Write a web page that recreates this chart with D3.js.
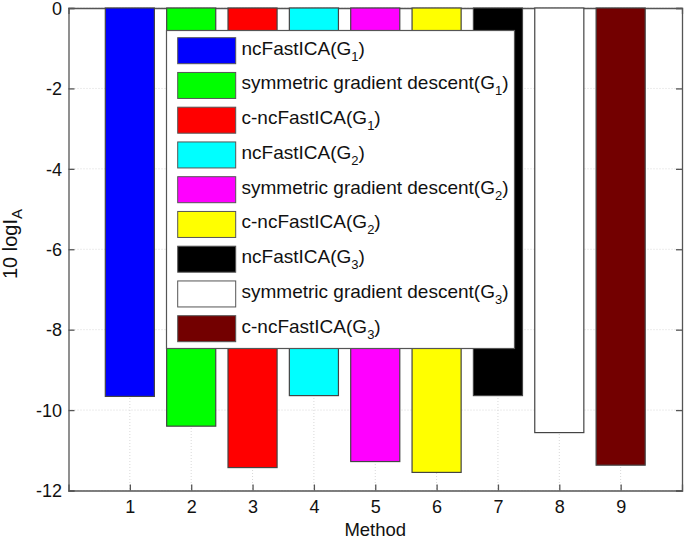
<!DOCTYPE html>
<html>
<head>
<meta charset="utf-8">
<script src="https://cdn.jsdelivr.net/npm/d3@7"></script>
<style>
  html, body { margin: 0; padding: 0; background: #fff; }
  svg { display: block; font-family: "Liberation Sans", Arial, Helvetica, sans-serif; }
</style>
</head>
<body>
<svg id="chart" width="685" height="539"></svg>
<script>
// ---- data ----
const methods = [1, 2, 3, 4, 5, 6, 7, 8, 9];
const values = [-9.66, -10.40, -11.43, -9.64, -11.28, -11.55, -9.64, -10.56, -11.37];
const colors = ["#0000ff", "#00ff00", "#ff0000", "#00ffff", "#ff00ff", "#ffff00", "#000000", "#ffffff", "#730000"];
const legendNames = ["ncFastICA", "symmetric gradient descent", "c-ncFastICA",
                     "ncFastICA", "symmetric gradient descent", "c-ncFastICA",
                     "ncFastICA", "symmetric gradient descent", "c-ncFastICA"];
const legendSubs = ["1", "1", "1", "2", "2", "2", "3", "3", "3"];
const yTicks = [0, -2, -4, -6, -8, -10, -12];
const xTicks = [1, 2, 3, 4, 5, 6, 7, 8, 9];

// ---- layout ----
const svg = d3.select("#chart");
const L = 68.5, R = 682, T = 8, B = 490.5;
const x = d3.scaleLinear().domain([0, 10]).range([L, R]);
const y = d3.scaleLinear().domain([-12, 0]).range([B, T]);
const barW = 0.8;
const axisColor = "#555";
const tickFont = 18;
const legendFont = 19;

// grid
const grid = svg.append("g");
grid.selectAll("line.gy").data(yTicks).join("line")
  .attr("x1", L).attr("x2", R).attr("y1", d => y(d)).attr("y2", d => y(d))
  .attr("stroke", "#d8d8d8").attr("stroke-dasharray", "1,2").attr("stroke-width", 1);
grid.selectAll("line.gx").data(xTicks).join("line")
  .attr("y1", T).attr("y2", B).attr("x1", d => x(d)).attr("x2", d => x(d))
  .attr("stroke", "#d8d8d8").attr("stroke-dasharray", "1,2").attr("stroke-width", 1);

// axes (ticks inward)
const axB = svg.append("g").attr("transform", `translate(0,${B})`)
  .call(d3.axisBottom(x).tickValues(xTicks).tickSize(-6).tickPadding(10).tickFormat(d3.format("d")));
const axT = svg.append("g").attr("transform", `translate(0,${T})`)
  .call(d3.axisTop(x).tickValues(xTicks).tickSize(-6).tickFormat(""));
const axLft = svg.append("g").attr("transform", `translate(${L},0)`)
  .call(d3.axisLeft(y).tickValues(yTicks).tickSize(-6).tickPadding(6.5).tickFormat(d3.format("d")));
const axRt = svg.append("g").attr("transform", `translate(${R},0)`)
  .call(d3.axisRight(y).tickValues(yTicks).tickSize(-6).tickFormat(""));
[axB, axT, axLft, axRt].forEach(g => {
  g.select(".domain").attr("stroke", axisColor).attr("stroke-width", 1.3);
  g.selectAll(".tick line").attr("stroke", axisColor).attr("stroke-width", 1.3);
  g.selectAll(".tick text").attr("fill", "#111").attr("font-size", tickFont)
    .attr("font-family", "Liberation Sans, Arial, sans-serif");
});
axLft.selectAll(".tick text").text(d => d === 0 ? "0" : "-" + Math.abs(d)).attr("dy", "0.35em");
axB.selectAll(".tick text").attr("dy", "0.71em");

// bars
svg.append("g").selectAll("rect").data(methods).join("rect")
  .attr("x", (d) => x(d - barW / 2))
  .attr("width", x(barW) - x(0))
  .attr("y", y(0))
  .attr("height", (d, i) => y(values[i]) - y(0))
  .attr("fill", (d, i) => colors[i])
  .attr("stroke", "#444").attr("stroke-width", 1.2);

// axis labels
svg.append("text").attr("x", x(5)).attr("y", 536).attr("text-anchor", "middle")
  .attr("font-size", 18.5).attr("fill", "#111").text("Method");
const yl = svg.append("text").attr("transform", `translate(17,244) rotate(-90)`)
  .attr("text-anchor", "middle").attr("font-size", 20).attr("fill", "#111");
yl.append("tspan").text("10 logI");
yl.append("tspan").attr("dy", 5).attr("font-size", 15).text("A");

// legend
const lg = svg.append("g");
const lgX = 166.5, lgY = 30.5, lgW = 348, lgH = 318;
lg.append("rect").attr("x", lgX).attr("y", lgY).attr("width", lgW).attr("height", lgH)
  .attr("fill", "#fff").attr("stroke", "#555").attr("stroke-width", 1.2);
const step = 34.75;
const items = lg.selectAll("g.item").data(legendNames).join("g")
  .attr("transform", (d, i) => `translate(0,${37.7 + i * step})`);
items.append("rect").attr("x", 177.7).attr("y", 0).attr("width", 58).attr("height", 26)
  .attr("fill", (d, i) => colors[i]).attr("stroke", "#555").attr("stroke-width", 1);
const tx = items.append("text").attr("x", 241.5).attr("y", 17).attr("font-size", legendFont).attr("fill", "#111");
tx.append("tspan").text(d => d + "(G");
tx.append("tspan").attr("dy", 6).attr("font-size", 13).text((d, i) => legendSubs[i]);
tx.append("tspan").attr("dy", -6).text(")");
</script>
</body>
</html>
